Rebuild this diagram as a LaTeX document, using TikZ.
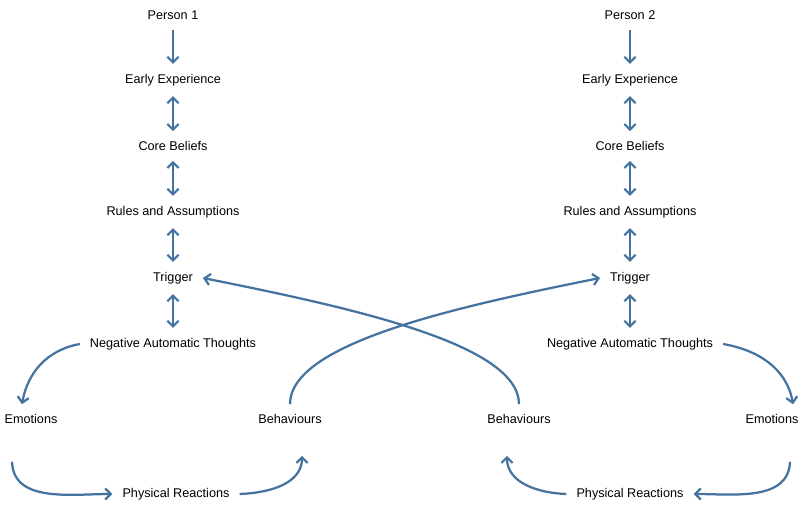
\documentclass[tikz,border=0pt]{standalone}
\usepackage{fontspec}
\setmainfont{Liberation Sans}
\usetikzlibrary{arrows.meta,calc}
\definecolor{cbtblue}{HTML}{44739F}
\tikzset{lbl/.style={inner sep=7pt, font=\fontsize{9}{11}\selectfont},
  flow/.style={cbtblue, line width=1.6pt, -{Straight Barb[length=4pt,width=8pt]}},
  both/.style={flow, {Straight Barb[length=4pt,width=8pt]}-{Straight Barb[length=4pt,width=8pt]}}}

\begin{document}
\begin{tikzpicture}[x=0.025cm, y=-0.025cm]
            \useasboundingbox (0,0) rectangle (800,510);
            % Person 1
            \node[lbl] (per1) at (173,15) {Person 1}; \node[lbl] (early1) at (173,80) {Early Experience};
            \node[lbl] (core1) at (173,146) {Core Beliefs}; \node[lbl] (rules1) at (173,212) {Rules and Assumptions};
            \node[lbl] (trig1) at (173,278) {Trigger}; \node[lbl] (nat1) at (173,344) {Negative Automatic Thoughts};
            \node[lbl] (emo1) at (31,419) {Emotions}; \node[lbl] (beh1) at (290,419) {Behaviours};
            \node[lbl] (phys1) at (176,494) {Physical Reactions};
            % Person 2
            \node[lbl] (per2) at (630,15) {Person 2}; \node[lbl] (early2) at (630,80) {Early Experience};
            \node[lbl] (core2) at (630,146) {Core Beliefs}; \node[lbl] (rules2) at (630,212) {Rules and Assumptions};
            \node[lbl] (trig2) at (630,278) {Trigger}; \node[lbl] (nat2) at (630,344) {Negative Automatic Thoughts};
            \node[lbl] (emo2) at (772,419) {Emotions}; \node[lbl] (beh2) at (519,419) {Behaviours};
            \node[lbl] (phys2) at (630,494) {Physical Reactions};
            \draw[flow] (per1) -- (early1); \draw[flow] (per2) -- (early2);
            \draw[both] (early1) -- (core1); \draw[both] (core1) -- (rules1); \draw[both] (rules1) -- (trig1); \draw[both] (trig1) -- (nat1);
            \draw[both] (early2) -- (core2); \draw[both] (core2) -- (rules2); \draw[both] (rules2) -- (trig2); \draw[both] (trig2) -- (nat2);
            % Cycles
            \draw[flow] (nat1.west) to[out=190, in=80] ($(emo1.north)+(-9,0)$);
            \draw[flow] ($(emo1.south)+(-19,28)$) to[out=-88, in=180] (phys1.west);
            \draw[flow] (phys1.east) to[out=2, in=-90] ($(beh1.south)+(12,22)$);
            \draw[flow] (nat2.east) to[out=-10, in=100] ($(emo2.north)+(21,0)$);
            \draw[flow] ($(emo2.south)+(18,28)$) to[out=-92, in=0] (phys2.east);
            \draw[flow] (phys2.west) to[out=178, in=-90] ($(beh2.south)+(-12,22)$);
            % Cross links
            \draw[flow] (beh1.north) .. controls +(0,-60) and +(-150,30) .. (trig2.west);
            \draw[flow] (beh2.north) .. controls +(0,-60) and +(150,30) .. (trig1.east);
        \end{tikzpicture}
\end{document}
